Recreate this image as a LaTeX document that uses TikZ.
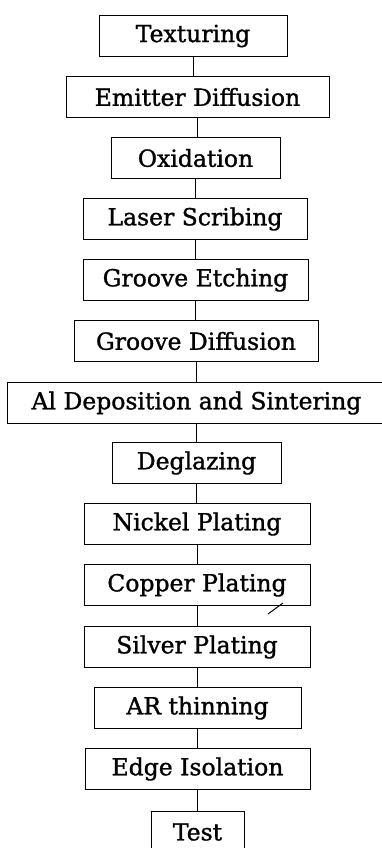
\documentclass[tikz,border=0pt]{standalone}
\usepackage{fontspec}
\setmainfont{DejaVu Serif}
\newfontfamily\stepfont[FakeBold=1.2]{DejaVu Serif}
\begin{document}
\begin{tikzpicture}[x=1pt,y=-1pt,
  stepbox/.style={draw, line width=1pt, inner sep=0pt, minimum height=41pt,
    font=\stepfont\fontsize{23.5}{28}\selectfont, anchor=north},
  link/.style={line width=1pt}]
\useasboundingbox (0,0) rectangle (382,848);
\node[stepbox, minimum width=188pt] (s1) at (193,15) {Texturing};
\node[stepbox, minimum width=263pt] (s2) at (197.5,76) {Emitter Diffusion};
\node[stepbox, minimum width=169pt] (s3) at (195.5,137) {Oxidation};
\node[stepbox, minimum width=224pt] (s4) at (195,198) {Laser Scribing};
\node[stepbox, minimum width=225pt] (s5) at (195.5,259) {Groove Etching};
\node[stepbox, minimum width=244pt] (s6) at (196,320) {Groove Diffusion};
\node[stepbox, minimum width=379pt] (s7) at (196.5,382) {Al Deposition and Sintering};
\node[stepbox, minimum width=169pt] (s8) at (196.5,442) {Deglazing};
\node[stepbox, minimum width=226pt] (s9) at (197,503) {Nickel Plating};
\node[stepbox, minimum width=226pt] (s10) at (197,564) {Copper Plating};
\node[stepbox, minimum width=226pt] (s11) at (197,626) {Silver Plating};
\node[stepbox, minimum width=207pt] (s12) at (197.5,687) {AR thinning};
\node[stepbox, minimum width=225pt] (s13) at (197.5,748) {Edge Isolation};
\node[stepbox, minimum width=93pt] (s14) at (197.5,811) {Test};
\foreach \a/\b in {s1/s2,s2/s3,s3/s4,s4/s5,s5/s6,s6/s7,s7/s8,s8/s9,s9/s10,s10/s11,s11/s12,s12/s13,s13/s14}
  \draw[link] (\a.south) -- (\a.south |- \b.north);
\coordinate (m1) at (268,614);
\coordinate (m2) at (283,603);
\draw[link] (m1) -- (m2);
\end{tikzpicture}
\end{document}
